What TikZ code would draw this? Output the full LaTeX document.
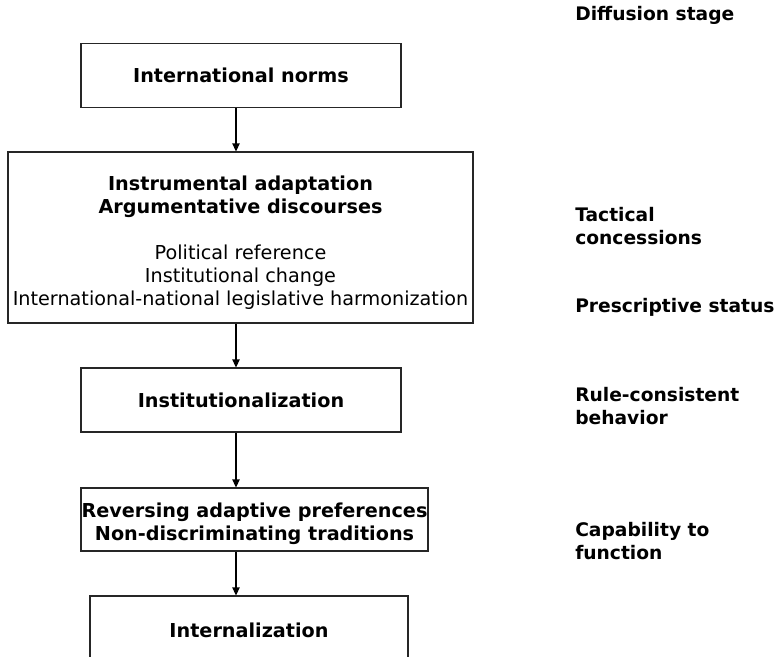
\documentclass[tikz,border=0pt]{standalone}
\usepackage{fontspec}
\setmainfont{DejaVu Sans}
\usetikzlibrary{arrows.meta}
\begin{document}
\begin{tikzpicture}[x=0.75pt,y=-0.75pt,
  boxfont/.style={font=\fontsize{14.4}{17.25}\selectfont},
  box/.style={draw=black!85, line width=0.8pt, align=center, inner sep=0pt, boxfont},
  lbl/.style={anchor=west, align=left, inner sep=0pt,
    font=\fontsize{14}{17.25}\selectfont\bfseries},
  arr/.style={line width=0.8pt, draw=black, -{Triangle[length=6pt,width=5.5pt]}}]
\useasboundingbox (0,0) rectangle (779,657);
\clip (0,0) rectangle (779,657);
\fill[white] (0,0) rectangle (779,657);
\coordinate (ax) at (236,0);

\node[box, minimum width=240pt, minimum height=48pt] (b1) at (241,75.5)
  {\bfseries International norms};
\node[box, minimum width=348.75pt, minimum height=128.25pt] (b2) at (240.5,237.5) {};
\node[boxfont, align=center, inner sep=0pt] (b2t) at (240.5,243)
  {\textbf{Instrumental adaptation}\\\textbf{Argumentative discourses}\\[17.25pt]
   Political reference\\Institutional change\\International-national legislative harmonization};
\node[box, minimum width=240pt, minimum height=48pt] (b3) at (241,400)
  {\bfseries Institutionalization};
\node[box, minimum width=260.25pt, minimum height=47.25pt] (b4) at (254.5,519.5)
  {\rule{0pt}{17pt}\textbf{Reversing adaptive preferences}\\\textbf{Non-discriminating traditions}};
\node[box, minimum width=238.5pt, minimum height=48pt] (b5) at (249,628)
  {\rule{0pt}{13.7pt}\bfseries Internalization};

\draw[arr] (b1.south -| ax) -- (b2.north -| ax);
\draw[arr] (b2.south -| ax) -- (b3.north -| ax);
\draw[arr] (b3.south -| ax) -- (b4.north -| ax);
\draw[arr] (b4.south -| ax) -- (b5.north -| ax);

\node[lbl] (l1) at (575,15) {Diffusion stage};
\node[lbl] (l2) at (575,226) {Tactical\\concessions};
\node[lbl] (l3) at (575,307) {Prescriptive status};
\node[lbl] (l4) at (575,406.5) {Rule-consistent\\behavior};
\node[lbl] (l5) at (575,541.5) {Capability to\\function};
\end{tikzpicture}
\end{document}
